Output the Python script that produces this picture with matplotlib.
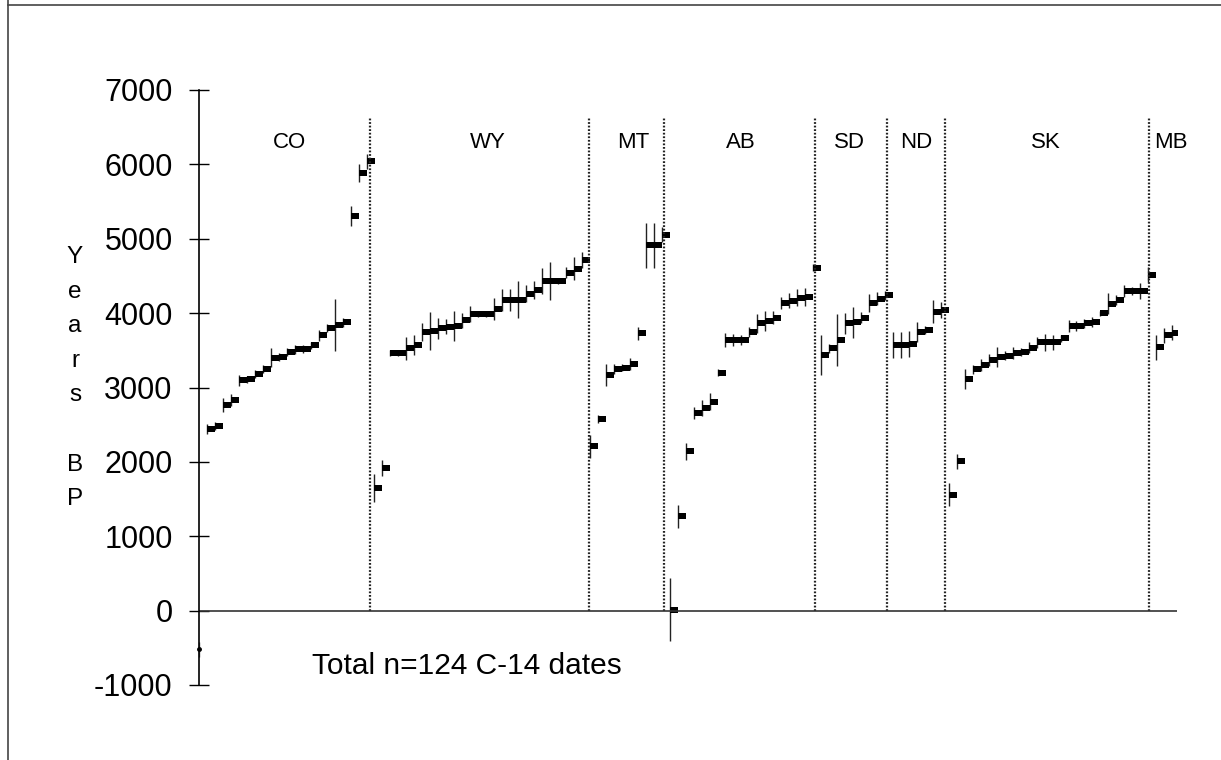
import numpy as np
import matplotlib
matplotlib.use("Agg")
import matplotlib.pyplot as plt
from matplotlib.path import Path
from matplotlib.lines import Line2D

plt.rcParams['font.family'] = ['Liberation Sans', 'DejaVu Sans']
plt.rcParams['axes.unicode_minus'] = False

# ----------------------------
# Data (years BP and 1-sigma, in plotting order)
# ----------------------------

regions = ["CO", "WY", "MT", "AB", "SD", "ND", "SK", "MB"]

co_bp = [2440, 2485, 2765, 2830, 3095, 3110, 3180, 3250, 3400, 3410, 3480,
         3515, 3520, 3565, 3700, 3800, 3845, 3880, 5305, 5880, 6040]
co_err = [70, 50, 90, 80, 70, 50, 50, 50, 130, 50, 50,
          60, 50, 50, 70, 60, 350, 60, 130, 120, 100]

wy_bp = [1650, 1915, 3460, 3460, 3525, 3570, 3750, 3760, 3795, 3815, 3830,
         3905, 3985, 3985, 3985, 4055, 4175, 4175, 4180, 4258, 4316,
         4432, 4432, 4432, 4544, 4598, 4710]
wy_err = [190, 110, 40, 40, 160, 130, 120, 260, 140, 100, 200,
          100, 110, 40, 40, 150, 150, 150, 250, 115, 120,
          170, 250, 40, 75, 150, 110]

mt_bp = [2207, 2574, 3168, 3248, 3266, 3315, 3727, 4911, 4911, 5054]
mt_err = [160, 50, 145, 70, 50, 80, 90, 300, 300, 100]

ab_bp = [15, 1270, 2140, 2654, 2721, 2811, 3199, 3637, 3637, 3637, 3749,
         3861, 3896, 3941, 4138, 4164, 4209, 4218]
ab_err = [420, 155, 120, 80, 110, 110, 50, 90, 80, 70, 70,
          130, 130, 90, 80, 100, 110, 120]

sd_bp = [4611, 3436, 3525, 3637, 3861, 3874, 3941, 4138, 4196, 4240]
sd_err = [50, 270, 60, 350, 145, 210, 80, 125, 90, 60]

nd_bp = [3570, 3570, 3583, 3749, 3771, 4017, 4039]
nd_err = [170, 175, 170, 135, 50, 155, 110]

sk_bp = [1560, 2007, 3110, 3248, 3302, 3369, 3414, 3427, 3467, 3480, 3534,
         3606, 3606, 3606, 3660, 3825, 3825, 3861, 3884, 3995, 4129,
         4173, 4294, 4294, 4294]
sk_err = [150, 100, 135, 60, 80, 80, 135, 60, 80, 50, 75,
          70, 115, 100, 50, 80, 70, 55, 65, 40, 135,
          70, 80, 55, 110]

mb_bp = [4517, 3539, 3704, 3735]
mb_err = [100, 170, 100, 100]

# stray CO date sitting on the axis
co_low_bp = -520
co_low_err = 100

# ----------------------------
# Layout helpers
# ----------------------------

dividers = [21.44, 48.9, 58.3, 77.2, 86.3, 93.5, 119.1]
label_x = [11.4, 36.2, 54.4, 67.9, 81.6, 89.9, 106.1, 121.8]

bp = np.concatenate([co_bp, wy_bp, mt_bp, ab_bp, sd_bp, nd_bp, sk_bp, mb_bp])
err = np.concatenate([co_err, wy_err, mt_err, ab_err, sd_err, nd_err, sk_err, mb_err])
x = np.arange(1, len(bp) + 1)

# bar marker that starts at the data point and runs to the right
bar = Path([(0, -0.4), (1, -0.4), (1, 0.4), (0, 0.4), (0, -0.4)],
           [Path.MOVETO, Path.LINETO, Path.LINETO, Path.LINETO, Path.CLOSEPOLY])

# ----------------------------
# Plot
# ----------------------------

W, H = 1221, 760
fig = plt.figure(figsize=(W / 100, H / 100), dpi=100)
ax = fig.add_axes([199 / W, 1 - 685 / H, 978 / W, 595 / H])

ax.errorbar(x, bp, yerr=err, fmt='none', ecolor='#222222', elinewidth=1.0, capsize=0)
ax.plot(x, bp, linestyle='none', marker=bar, markersize=11.5,
        markerfacecolor='black', markeredgewidth=0)

ax.errorbar([0], [co_low_bp], yerr=[co_low_err], fmt='none', ecolor='#555555',
            elinewidth=1.0, linestyle=':', capsize=0, clip_on=False)
ax.plot([0], [co_low_bp], marker='o', markersize=2.5, color='black', clip_on=False)

ax.vlines(dividers, 0, 6620, colors='#222222', linestyles=(0, (0.8, 0.8)), linewidth=1.6)
ax.axhline(0, color='#333333', linewidth=1.2)

for name, lx in zip(regions, label_x):
    ax.text(lx, 6300, name, ha='center', va='center', fontsize=16)

ax.text(14.2, -750, "Total n=124 C-14 dates", ha='left', va='center', fontsize=21.5)

ax.set_xlim(0, 122.6)
ax.set_ylim(-1000, 7000)
ax.set_yticks(range(-1000, 7001, 1000))
ax.set_xticks([])
ax.tick_params(axis='y', direction='inout', length=14, width=1, pad=12, labelsize=22)

for side in ['top', 'right', 'bottom']:
    ax.spines[side].set_visible(False)
ax.spines['left'].set_linewidth(1.2)

# stacked axis title
for k, ch in enumerate("Years BP"):
    fig.text(75 / W, 1 - (263 + 34.6 * k) / H, ch, ha='center', va='baseline', fontsize=17.5)

# scanned page frame
fig.add_artist(Line2D([8 / W, 8 / W], [0, 1], color='#444444', linewidth=1.2))
fig.add_artist(Line2D([8 / W, 1], [1 - 5 / H, 1 - 5 / H], color='#444444', linewidth=1.2))

fig.savefig("out.png", dpi=100)
